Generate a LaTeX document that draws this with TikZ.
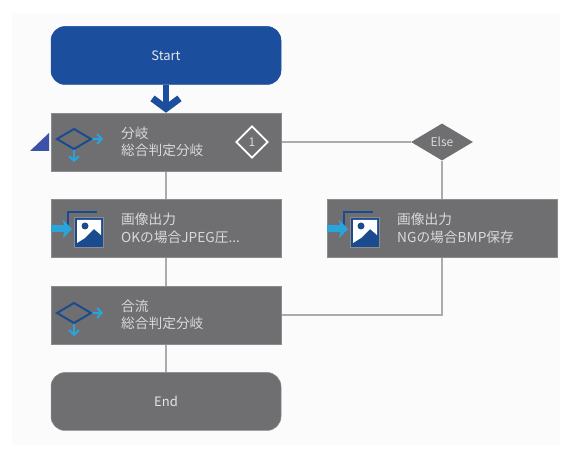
\documentclass[tikz,border=0pt]{standalone}
\usepackage{fontspec}
\setmainfont{Noto Sans CJK JP}
\usetikzlibrary{arrows.meta,shapes.geometric,backgrounds}
\definecolor{boxgray}{HTML}{6F6F71}
\definecolor{edgegray}{HTML}{8C8C8E}
\definecolor{linegray}{HTML}{ABABAB}
\definecolor{startblue}{HTML}{1C4E9E}
\definecolor{iconblue}{HTML}{1B4B8F}
\definecolor{arrowblue}{HTML}{29A5DE}
\definecolor{markblue}{HTML}{3D51A8}
\definecolor{paneback}{HTML}{FBFBFB}
\tikzset{
    stepbox/.style={rectangle, fill=boxgray, draw=edgegray, line width=0.5pt, minimum width=230pt, minimum height=58pt, inner sep=0pt},
    endbox/.style={stepbox, rounded corners=14pt, text=white!90!black, font=\fontsize{13}{15}\selectfont},
    elsebox/.style={diamond, fill=boxgray, minimum width=62pt, minimum height=37pt, inner sep=0pt, text=white!85!black, font=\fontsize{12}{14}\selectfont},
    steptext/.style={anchor=west, align=left, inner sep=0pt, text=white!85!black, font=\fontsize{13.7}{17.5}\selectfont},
    flowline/.style={draw=linegray, line width=2.4pt},
    smallarrow/.style={draw=arrowblue, line width=2pt, -{Straight Barb[length=4.5pt,width=10pt,line width=2pt]}}
}
\newcommand{\branchicon}[2]{
    \draw[smallarrow] (#1+17,#2) -- (#1+29,#2);
    \draw[smallarrow] (#1,#2+10) -- (#1,#2+23);
    \draw[iconblue, line width=2pt, line join=miter] (#1-17,#2) -- (#1,#2-10) -- (#1+17,#2) -- (#1,#2+10) -- cycle;
}
\newcommand{\imageicon}[2]{
    \draw[iconblue, line width=1.8pt] (#1,#2+21) -- (#1,#2) -- (#1+29,#2);
    \fill[iconblue, draw=edgegray, line width=0.5pt] (#1+6,#2+5) rectangle (#1+35,#2+35);
    \fill[white] (#1+9,#2+8) -- (#1+33,#2+8) -- (#1+33,#2+23) -- (#1+26,#2+17) -- (#1+17,#2+26) -- (#1+9,#2+31) -- cycle;
    \fill[iconblue] (#1+17,#2+14) circle (3.5pt);
    \draw[arrowblue, line width=7pt, -{Stealth[length=9pt,width=18pt,inset=2pt]}] (#1-17,#2+17) -- (#1+4,#2+17);
}
\begin{document}
\begin{tikzpicture}[x=1pt, y=-1pt]
    \useasboundingbox (0,0) rectangle (571,454);

    \node[endbox, fill=startblue, draw=startblue] (start) at (166,55.5) {Start};
    \node[stepbox] (branch) at (166,142) {};
    \node[stepbox] (outok) at (166,228) {};
    \node[stepbox] (merge) at (166,315) {};
    \node[endbox] (end) at (166,401.5) {End};
    \node[stepbox] (outng) at (442,228) {};
    \node[elsebox] (else) at (442,142) {Else};
    \coordinate (join) at (442,315);

    \begin{pgfonlayer}{background}
    \fill[white] (0,0) rectangle (571,454);
    \fill[paneback] (12,13) rectangle (560,445);
    \draw[flowline] (branch) -- (outok);
    \draw[flowline] (outok) -- (merge);
    \draw[flowline] (merge) -- (end);
    \draw[flowline] (branch) -- (else);
    \draw[flowline] (else) -- (outng);
    \draw[flowline] (outng) -- (join) -- (merge);
    \end{pgfonlayer}

    \draw[startblue, line width=6.5pt, -{Straight Barb[length=10pt,width=27pt,line width=7pt]}] (start) -- (branch.north);

    \fill[markblue] (30,151) -- (49,151) -- (49,133) -- cycle;

    \branchicon{74}{139}
    \branchicon{74}{313}
    \imageicon{68}{212}
    \imageicon{344}{212}

    \node[diamond, draw=white, line width=1.8pt, minimum width=32pt, minimum height=32pt, inner sep=0pt, text=white!85!black, font=\fontsize{12}{14}\selectfont] (count) at (252,142) {1};

    \node[steptext] (branchtext) at (121,142) {分岐\\総合判定分岐};
    \node[steptext] (oktext) at (121,228.5) {画像出力\\OKの場合JPEG圧...};
    \node[steptext] (mergetext) at (121,315) {合流\\総合判定分岐};
    \node[steptext] (ngtext) at (397,228.5) {画像出力\\NGの場合BMP保存};
\end{tikzpicture}
\end{document}
